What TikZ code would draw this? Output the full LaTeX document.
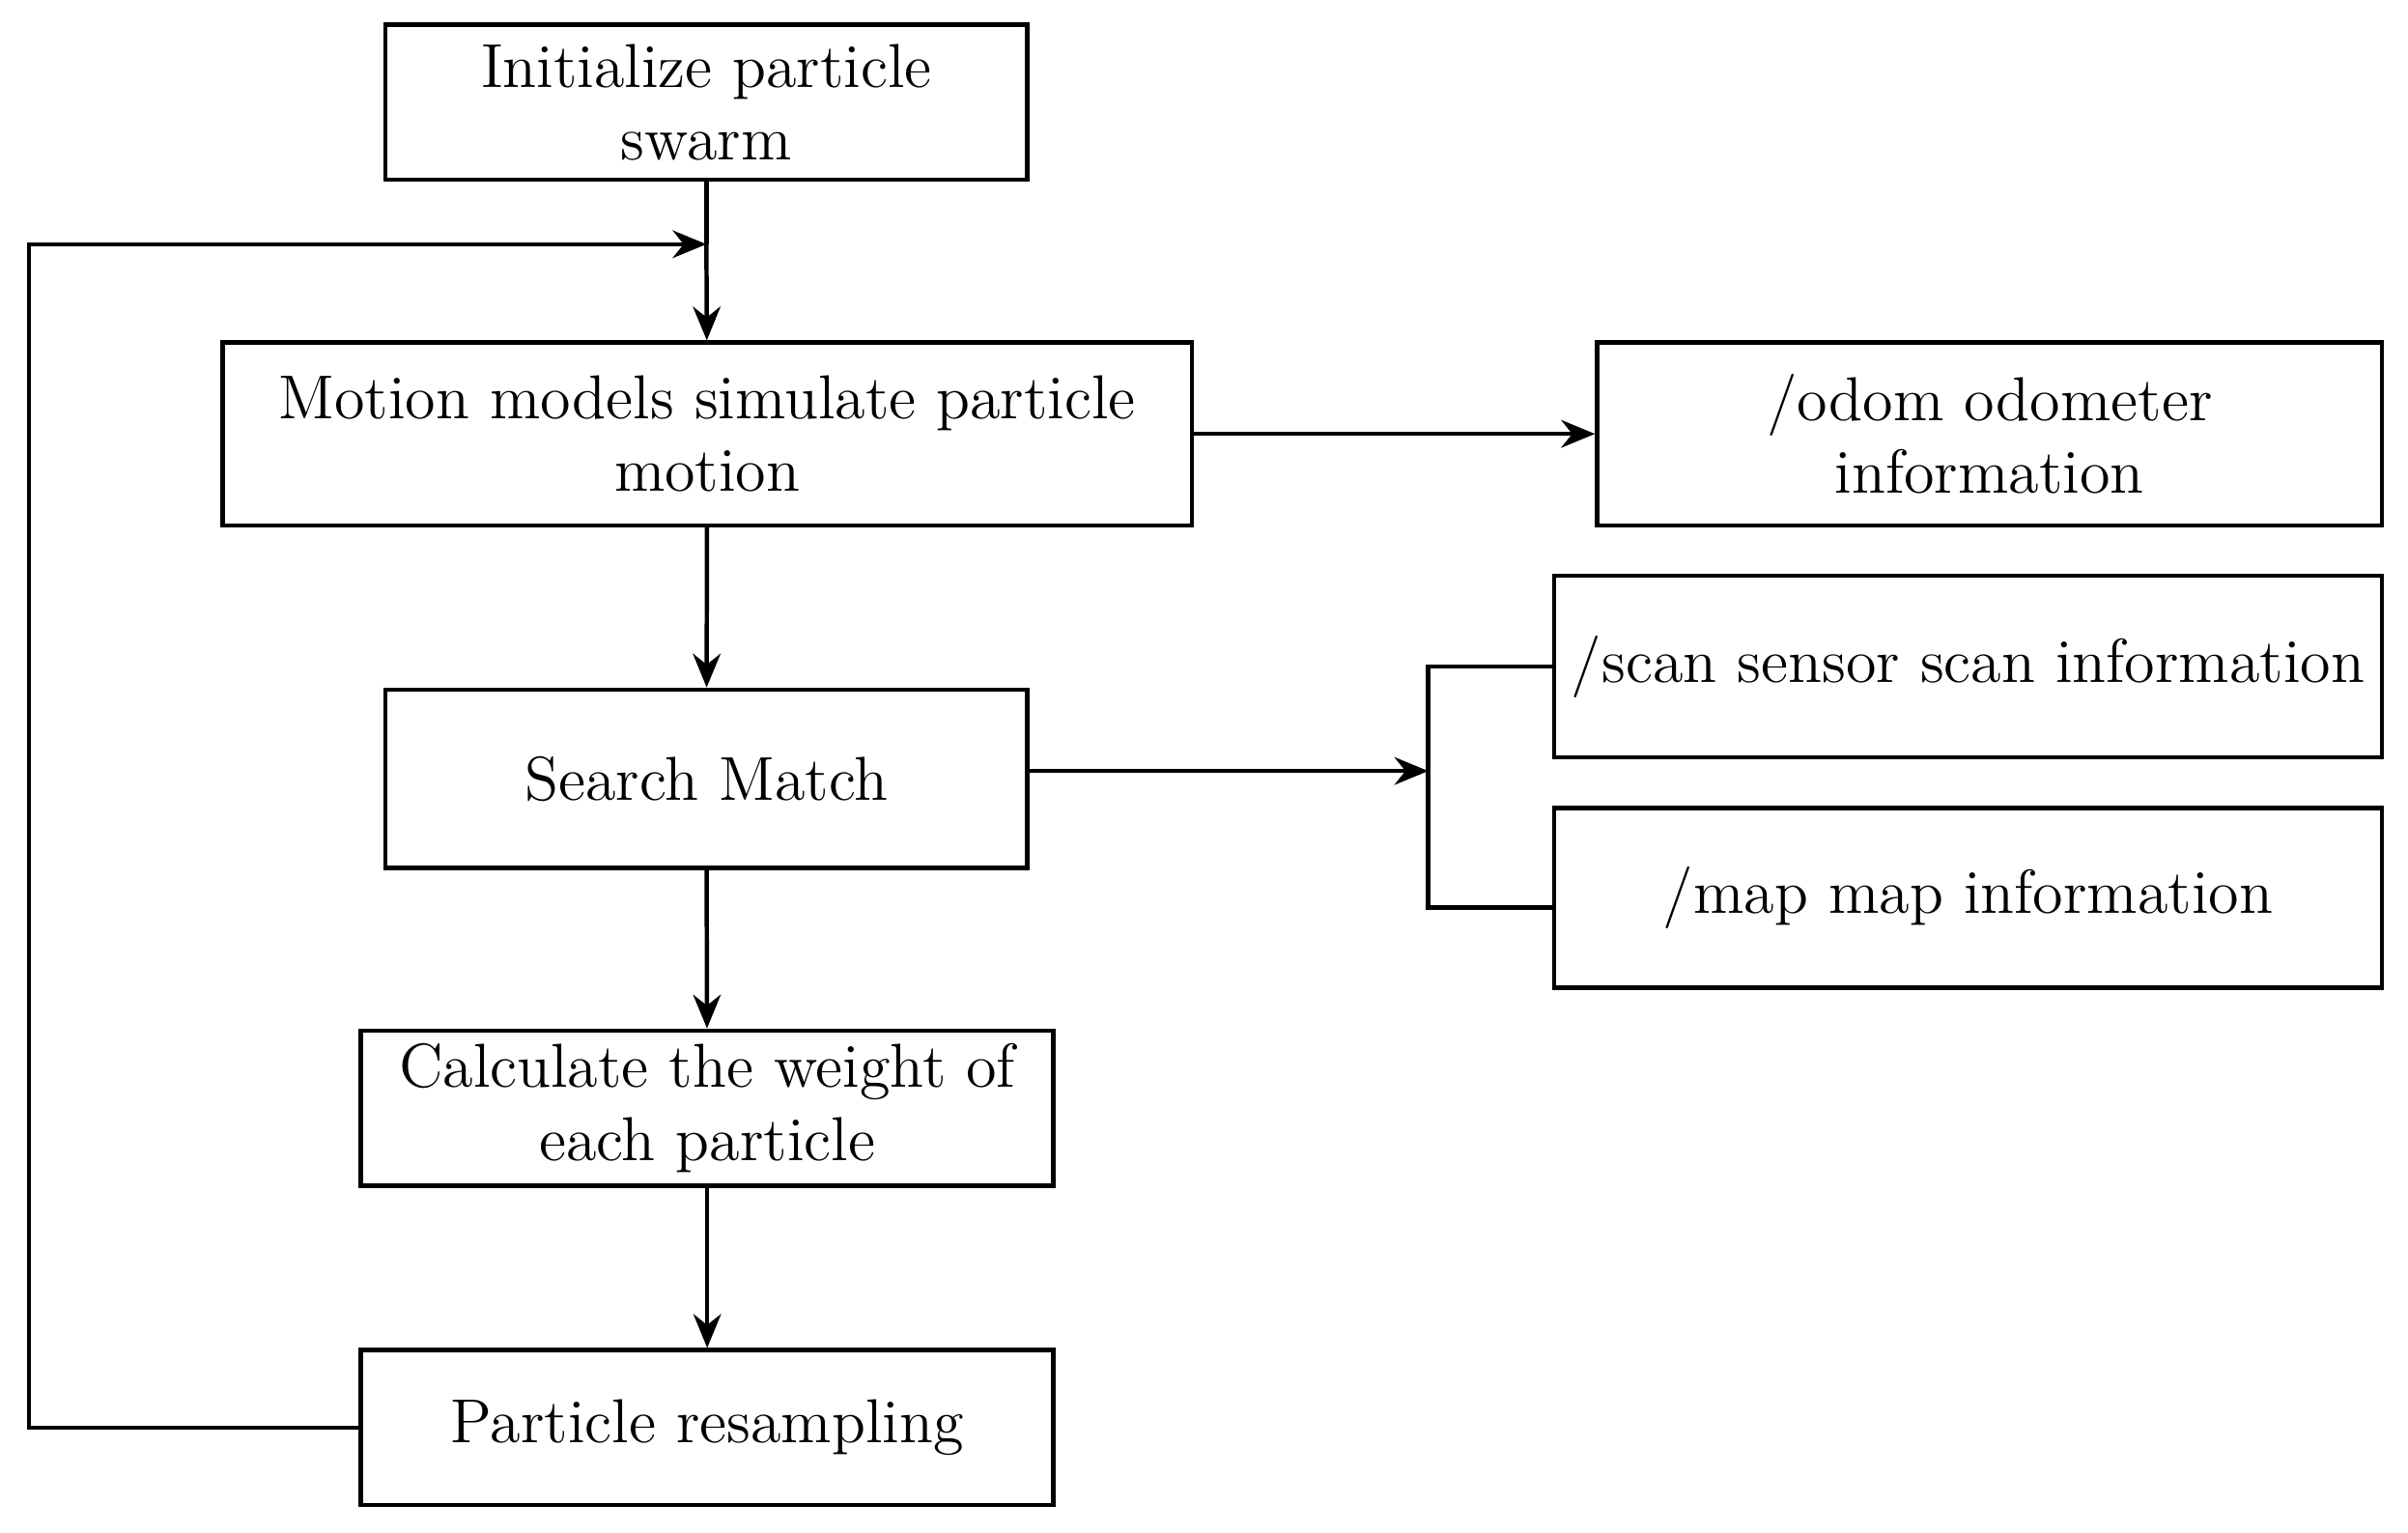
\documentclass[tikz,border=0pt]{standalone}
\usepackage{tikz}
\usetikzlibrary{calc, arrows.meta}

\begin{document}
\begin{tikzpicture}[
            box/.style={draw, thick, align=center, inner sep=0pt,
                font=\fontsize{11.5}{13.5}\selectfont},
            flow/.style={thick, -{Stealth[length=2.2mm, width=1.8mm]}}
        ]
            \useasboundingbox (0,0) rectangle (15.68,-9.98);

            \node[box, minimum width=4.18cm, minimum height=1.01cm] (init) at (4.60,-0.665) {Initialize particle\\swarm};
            \node[box, minimum width=6.31cm, minimum height=1.19cm] (motion) at (4.605,-2.825) {Motion models simulate particle\\motion};
            \node[box, minimum width=4.18cm, minimum height=1.16cm] (search) at (4.60,-5.07) {Search Match};
            \node[box, minimum width=4.51cm, minimum height=1.01cm] (weight) at (4.605,-7.215) {Calculate the weight of\\each particle};
            \node[box, minimum width=4.51cm, minimum height=1.01cm] (resample) at (4.605,-9.295) {Particle resampling};

            \node[box, minimum width=5.11cm, minimum height=1.19cm] (odom) at (12.955,-2.825) {/odom odometer\\information};
            \node[box, minimum width=5.39cm, minimum height=1.18cm] (scan) at (12.815,-4.34) {/scan sensor scan information};
            \node[box, minimum width=5.39cm, minimum height=1.17cm] (map) at (12.815,-5.845) {/map map information};

            \coordinate (join) at (4.60,-1.59);
            \coordinate (brk) at (9.30,-5.02);

            \draw[thick] (init) -- (join);
            \draw[flow] (join) -- (motion);
            \draw[flow] (motion) -- (search);
            \draw[flow] (search) -- (weight);
            \draw[flow] (weight) -- (resample);
            \draw[flow] (motion) -- (odom);

            % loop back
            \draw[flow] (resample.west) -- (0.19,-9.295) |- (join);

            % bracket to the inputs
            \draw[flow] (search.east |- brk) -- (brk);
            \draw[thick] (scan.west) -| (brk) |- (map.west |- 0,-5.91) -- (map.west |- 0,-5.91);
        \end{tikzpicture}
\end{document}
